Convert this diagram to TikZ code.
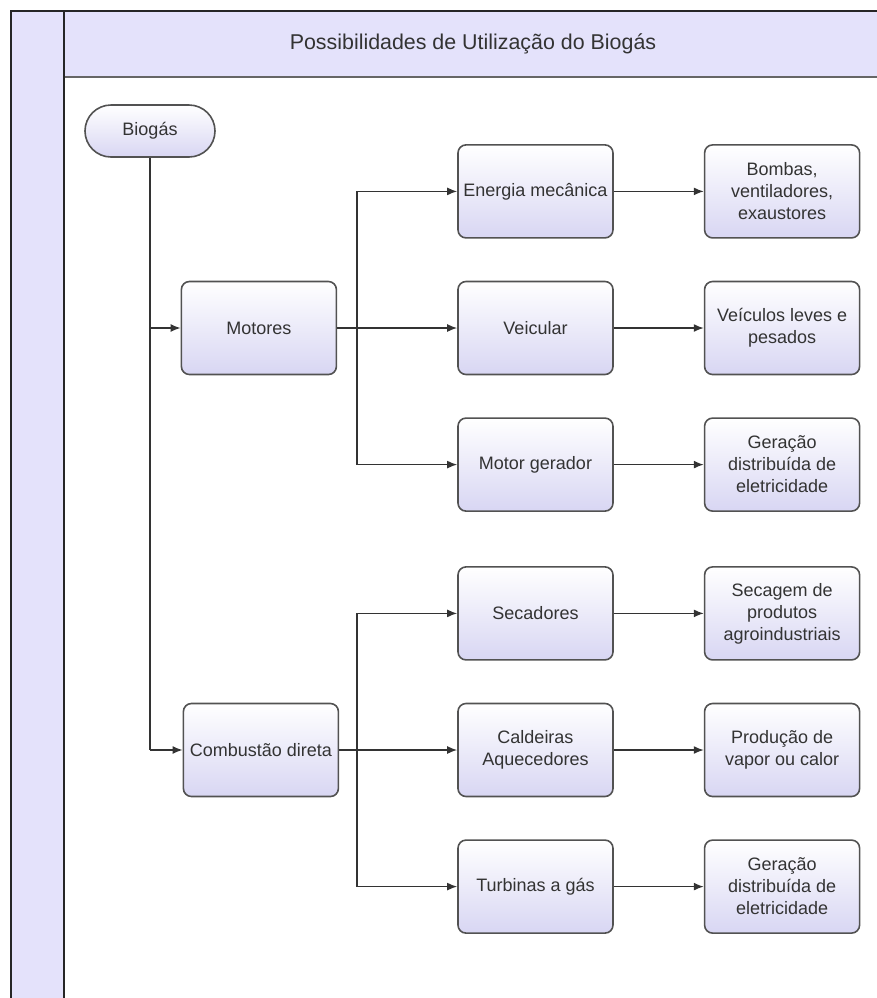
\documentclass[tikz,border=0pt]{standalone}
\usepackage{fontspec}
\setmainfont{Liberation Sans}
\usepackage{tikz}
\usetikzlibrary{arrows.meta, calc, positioning}
\definecolor{lav}{HTML}{E4E2FB}
\definecolor{boxlav}{HTML}{D8D6F3}
\definecolor{edgegray}{HTML}{333333}
\definecolor{txtgray}{HTML}{333333}
\tikzset{
>={Latex[length=5pt,width=4pt]}, % small filled arrow heads
node distance=21pt, % gap between two boxes of a column
every node/.style={inner sep=1pt, text=txtgray},
box/.style={draw=edgegray!85, line width=0.8pt, rounded corners=4pt,
  top color=white, bottom color=boxlav, minimum width=77.5pt,
  minimum height=46.5pt, align=center, font=\fontsize{9}{11}\selectfont},
term/.style={box, rounded corners=13pt, minimum width=65pt, minimum height=26pt},
link/.style={edgegray, line width=0.75pt},
}

\begin{document}
\begin{tikzpicture}[x=0.5pt, y=-0.5pt]
  \useasboundingbox (0,0) rectangle (877,998);

  % Frame: lane band and header ---------------------
  \fill[lav] (11,11) rectangle (64,998);
  \fill[lav] (64,11) rectangle (877,77);
  \draw[gray!80!black, line width=0.9pt] (64,77) -- (877,77);
  \draw[black!85, line width=0.9pt] (64,11) -- (64,998);
  \draw[black!85, line width=1pt] (11,998) -- (11,11) -- (877,11);
  \node[font=\fontsize{10.7}{12}\selectfont] (title) at (473,44) {Possibilidades de Utilização do Biogás};

  % Source -------------------------------------------
  \node[term] (bio) at (150,131) {Biogás};

  % Middle column -----------------------------------
  \node[box] (veic) at (535.5,328) {Veicular};
  \node[box, above=of veic] (ener) {Energia mecânica};
  \node[box, below=of veic] (ger) {Motor gerador};

  \node[box] (cald) at (535.5,750) {Caldeiras\\Aquecedores};
  \node[box, above=of cald] (sec) {Secadores};
  \node[box, below=of cald] (turb) {Turbinas a gás};

  % Uses -------------------------------------------
  \node[box, left=60pt of veic] (mot) {Motores};
  \node[box, left=59pt of cald] (comb) {Combustão direta};

  % Results -----------------------------------------
  \node[box, right=45pt of ener] (bomb) {Bombas,\\ventiladores,\\exaustores};
  \node[box, right=45pt of veic] (leve) {Veículos leves e\\pesados};
  \node[box, right=45pt of ger]  (elet1) {Geração\\distribuída de\\eletricidade};
  \node[box, right=45pt of sec]  (agro) {Secagem de\\produtos\\agroindustriais};
  \node[box, right=45pt of cald] (vapor) {Produção de\\vapor ou calor};
  \node[box, right=45pt of turb] (elet2) {Geração\\distribuída de\\eletricidade};

  % Junctions of the branches
  \coordinate (jm) at ($(mot.east)+(20,0)$);
  \coordinate (jc) at ($(comb.east)+(18,0)$);

  \draw[link] (bio) -- (bio |- comb);
  \draw[link] (jm |- ener) -- (jm |- ger);
  \draw[link] (jc |- sec) -- (jc |- turb);

  \path[link, ->]
  (bio |- mot) edge (mot)
  (bio |- comb) edge (comb)

  (mot) edge (veic)
  (jm |- ener) edge (ener)
  (jm |- ger) edge (ger)

  (comb) edge (cald)
  (jc |- sec) edge (sec)
  (jc |- turb) edge (turb)

  (ener) edge (bomb)
  (veic) edge (leve)
  (ger) edge (elet1)
  (sec) edge (agro)
  (cald) edge (vapor)
  (turb) edge (elet2) ;
\end{tikzpicture}
\end{document}
